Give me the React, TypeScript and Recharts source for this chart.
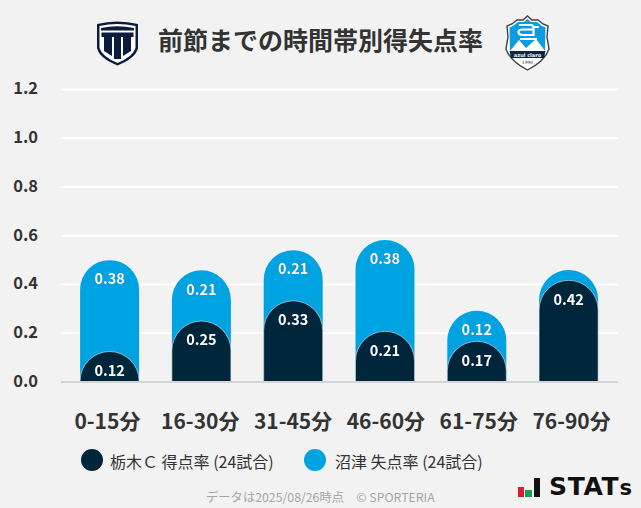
import { Bar, BarChart, CartesianGrid, LabelList, XAxis, YAxis } from 'recharts';

const PERIODS = ['0-15分', '16-30分', '31-45分', '46-60分', '61-75分', '76-90分'];
const TOCHIGI_SCORED = [0.125, 0.25, 0.333, 0.208, 0.167, 0.417];
const NUMAZU_CONCEDED = [0.375, 0.208, 0.208, 0.375, 0.125, 0.042];
const SCORED_LABELS = ['0.12', '0.25', '0.33', '0.21', '0.17', '0.42'];
// last one has no label in the picture, only the rounded cap shows above the dark bar
const CONCEDED_LABELS = ['0.38', '0.21', '0.21', '0.38', '0.12', ''];
const Y_TICKS = [0, 0.2, 0.4, 0.6, 0.8, 1.0, 1.2];
const LEGEND_ITEMS = [
  { label: '栃木Ｃ 得点率 (24試合)', color: '#00263b', dotX: 92, textX: 110 },
  { label: '沼津 失点率 (24試合)', color: '#00a3e2', dotX: 315, textX: 335 },
];

const FONT = '"Noto Sans CJK JP", "Noto Sans", sans-serif';
const TEXT_COLOR = '#333333';

const rows = PERIODS.map((period, i) => ({
  period,
  scored: TOCHIGI_SCORED[i],
  top: TOCHIGI_SCORED[i] + NUMAZU_CONCEDED[i],
  scoredLabel: SCORED_LABELS[i],
  concededLabel: CONCEDED_LABELS[i],
}));

const labelStyle = {
  fill: '#ffffff',
  fontSize: 14.5,
  fontWeight: 700,
  fontFamily: FONT,
  filter: 'drop-shadow(0 0 0.6px rgba(0,30,50,0.7))',
};

// Recharts caps the corner radius at half the bar height, short bars need a full half circle too
function DomeBar({ x, y, width, height, fill }: any) {
  const r = width / 2;
  const ry = Math.min(r, height);
  const d = `M${x},${y + height} V${y + ry} A${r},${ry} 0 0 1 ${x + width},${y + ry} V${y + height}`;
  return <path d={d} fill={fill} stroke="#e8eef2" strokeWidth={0.6} />;
}

function TochigiLogo() {
  return (
    <svg style={{ position: 'absolute', left: 97, top: 20 }} width={41} height={46} viewBox="1 0 41 46">
      <path d="M1 4 Q21 -1 42 4 V28 Q40 38 21.500 45.500 Q3 38 1 28 Z" fill="#0c1c3c" />
      <path d="M3.500 6 Q21 2 39.500 6 V28 Q37 36.500 21.500 43 Q6 36.500 3.500 28 Z" fill="#ffffff" />
      <path d="M5 8 Q21 4.500 38 8 V10.500 H5 Z" fill="#0c1c3c" />
      <path d="M5.500 12.500 H37.500 V17 H35 V31 L27 36 V17 H25 V39 H18 V17 H16 V36 L8 31 V17 H5.500 Z" fill="#0c1c3c" />
    </svg>
  );
}

function NumazuLogo() {
  return (
    <svg style={{ position: 'absolute', left: 505, top: 15 }} width={45} height={56} viewBox="0 0 45 56">
      <path d="M22.500 1 L27 5 L33 5 L38 9 L43 11 L42 22 L44 34 Q40 46 22.500 55 Q5 46 1 34 L3 22 L2 11 L7 9 L12 5 L18 5 Z" fill="#ffffff" stroke="#39424a" strokeWidth={1.4} />
      <path d="M22.500 4 L26 7 L32 7 L37 11 L40.500 12.500 L40 36 H5 L4.500 12.500 L8 11 L13 7 L19 7 Z" fill="#0a9be0" />
      <path d="M5 36 L14 25 L21 33 L31 24 L40 36 Z" fill="#ffffff" />
      <path d="M4.500 36 H40.500 L39 43 H6 Z" fill="#10263c" />
      <path d="M14 10 H26 Q28.500 10 28.500 13 V20 H18 Q13.500 20 13.500 17 Q13.500 14.500 18 14.500 H28 M15 24 H32 M29 12 H34" fill="none" stroke="#ffffff" strokeWidth={2.2} />
      <text x={22.500} y={41.500} textAnchor="middle" fontSize={5} fontWeight={700} fill="#ffffff" fontFamily="DejaVu Sans">azul claro</text>
      <text x={22.500} y={49} textAnchor="middle" fontSize={4.500} fill="#333333" fontFamily="DejaVu Sans">1990</text>
    </svg>
  );
}

function StatsLogo() {
  return (
    <div style={{ position: 'absolute', left: 518, top: 476, width: 120, height: 24 }}>
      <svg style={{ position: 'absolute', left: 0, top: 0 }} width={24} height={22} viewBox="0 0 24 22">
        <rect x={0} y={11} width={6} height={10} fill="#d8202c" />
        <rect x={7} y={14} width={7} height={7} fill="#12a150" />
        <rect x={16} y={2} width={6} height={19} fill="#111111" />
      </svg>
      <span
        style={{
          position: 'absolute',
          left: 31,
          top: -4,
          fontFamily: '"DejaVu Sans", sans-serif',
          fontSize: 25,
          fontWeight: 700,
          letterSpacing: 0.7,
          color: '#111111',
          whiteSpace: 'nowrap',
        }}
      >
        STAT<span style={{ fontSize: 21 }}>s</span>
      </span>
    </div>
  );
}

export default function App() {
  return (
    <div style={{ position: 'absolute', left: 0, top: 0, width: 641, height: 508, background: '#f2f2f2', fontFamily: FONT, overflow: 'hidden' }}>
      <BarChart
        width={641}
        height={508}
        data={rows}
        margin={{ top: 89.5, right: 23, left: 0, bottom: 0 }}
        barSize={59}
        barGap={-59}
      >
        <CartesianGrid vertical={false} stroke="#ffffff" strokeWidth={2} />
        <XAxis
          dataKey="period"
          height={126}
          tickLine={false}
          axisLine={{ stroke: '#d4d4d4', strokeWidth: 2 }}
          interval={0}
          tickMargin={26}
          tick={{ fill: TEXT_COLOR, fontSize: 21, fontWeight: 700, fontFamily: FONT }}
        />
        {/* bars sit on a slightly tighter band than the tick labels */}
        <XAxis xAxisId="bars" dataKey="period" hide padding={{ left: 3.1, right: 3.1 }} />
        <YAxis
          domain={[0, 1.2]}
          ticks={Y_TICKS}
          width={61}
          axisLine={false}
          tickLine={false}
          tickMargin={17}
          tickFormatter={(v: number) => v.toFixed(1)}
          tick={{ fill: TEXT_COLOR, fontSize: 16.5, fontWeight: 700, fontFamily: FONT, dy: -1 }}
        />
        <Bar xAxisId="bars" dataKey="top" fill="#00a3e2" radius={[29.5, 29.5, 0, 0]} isAnimationActive={false}>
          <LabelList dataKey="concededLabel" position="insideTop" offset={14} style={labelStyle} />
        </Bar>
        <Bar xAxisId="bars" dataKey="scored" fill="#00263b" shape={DomeBar} isAnimationActive={false}>
          <LabelList dataKey="scoredLabel" position="insideTop" offset={14} style={labelStyle} />
        </Bar>
      </BarChart>

      <div style={{ position: 'absolute', left: 158, top: 21, fontSize: 25, lineHeight: '36px', fontWeight: 700, color: TEXT_COLOR, whiteSpace: 'nowrap' }}>
        前節までの時間帯別得失点率
      </div>
      <TochigiLogo />
      <NumazuLogo />

      {LEGEND_ITEMS.map((item) => (
        <div key={item.label}>
          <div style={{ position: 'absolute', left: item.dotX - 11, top: 449, width: 22, height: 22, borderRadius: '50%', background: item.color }} />
          <div style={{ position: 'absolute', left: item.textX, top: 450, fontSize: 16, lineHeight: '22px', color: TEXT_COLOR, whiteSpace: 'nowrap' }}>
            {item.label}
          </div>
        </div>
      ))}

      <div style={{ position: 'absolute', left: 206, top: 488, fontSize: 12.3, lineHeight: '18px', color: '#a6a6a6', whiteSpace: 'nowrap' }}>
        データは2025/08/26時点　© SPORTERIA
      </div>
      <StatsLogo />
    </div>
  );
}
